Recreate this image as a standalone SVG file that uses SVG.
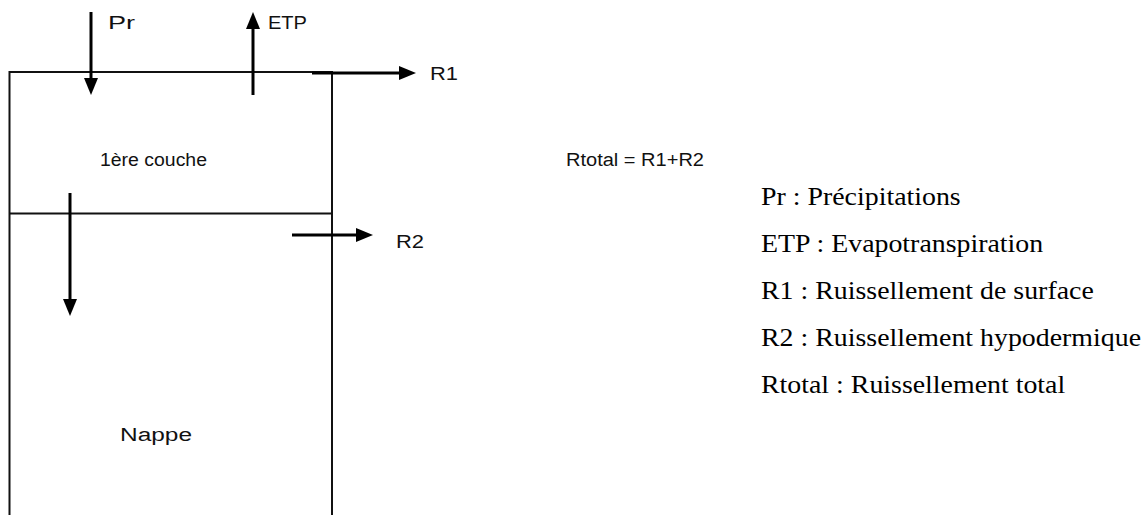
<svg xmlns="http://www.w3.org/2000/svg" width="1142" height="515" viewBox="0 0 1142 515">
  <style>
    .wall { stroke: #111; stroke-width: 2; fill: none; }
    .flow { stroke: #000; stroke-width: 3; fill: none; marker-end: url(#head); }
    .lbl { font-family: "Liberation Sans", Arial, sans-serif; font-size: 18px; fill: #111; }
    .key { font-family: "Liberation Serif", "Times New Roman", serif; font-size: 25px; fill: #000; }
  </style>
  <defs>
    <marker id="head" markerUnits="userSpaceOnUse" markerWidth="17" markerHeight="14" refX="6" refY="7" orient="auto">
      <path d="M0,0 L17,7 L0,14 z" fill="#000"/>
    </marker>
  </defs>
  <rect width="1142" height="515" fill="#fff"/>

  <!-- soil column: two stacked layers -->
  <g id="column">
    <path class="wall" d="M9.5,515 V72 H332 V515"/>
    <line class="wall" x1="9.5" y1="213.5" x2="332" y2="213.5"/>
  </g>

  <g id="layer1">
    <text class="lbl" x="100" y="166" textLength="107" lengthAdjust="spacingAndGlyphs">1ère couche</text>
  </g>
  <g id="aquifer">
    <text class="lbl" x="120" y="441" textLength="72" lengthAdjust="spacingAndGlyphs">Nappe</text>
  </g>

  <!-- water fluxes -->
  <g id="connectors">
    <line class="flow" x1="91" y1="12" x2="91" y2="84"/>
    <line class="flow" x1="253" y1="95" x2="253" y2="23"/>
    <line class="flow" x1="312" y1="73" x2="405" y2="73"/>
    <line class="flow" x1="292" y1="235" x2="362" y2="235"/>
    <line class="flow" x1="70" y1="193" x2="70" y2="305"/>
  </g>

  <g id="flux-labels">
    <text class="lbl" x="108" y="29" textLength="27" lengthAdjust="spacingAndGlyphs">Pr</text>
    <text class="lbl" x="268" y="29" textLength="39" lengthAdjust="spacingAndGlyphs">ETP</text>
    <text class="lbl" x="430" y="80" textLength="28" lengthAdjust="spacingAndGlyphs">R1</text>
    <text class="lbl" x="396" y="248" textLength="28" lengthAdjust="spacingAndGlyphs">R2</text>
  </g>

  <g id="formula">
    <text class="lbl" x="566" y="166" textLength="138" lengthAdjust="spacingAndGlyphs">Rtotal = R1+R2</text>
  </g>

  <!-- legend, set slightly wide -->
  <g id="legend" transform="translate(761,0) scale(1.115,1)">
    <text class="key" x="0" y="205">Pr : Précipitations</text>
    <text class="key" x="0" y="252">ETP : Evapotranspiration</text>
    <text class="key" x="0" y="299">R1 : Ruissellement de surface</text>
    <text class="key" x="0" y="346">R2 : Ruissellement hypodermique</text>
    <text class="key" x="0" y="393">Rtotal : Ruissellement total</text>
  </g>
</svg>
